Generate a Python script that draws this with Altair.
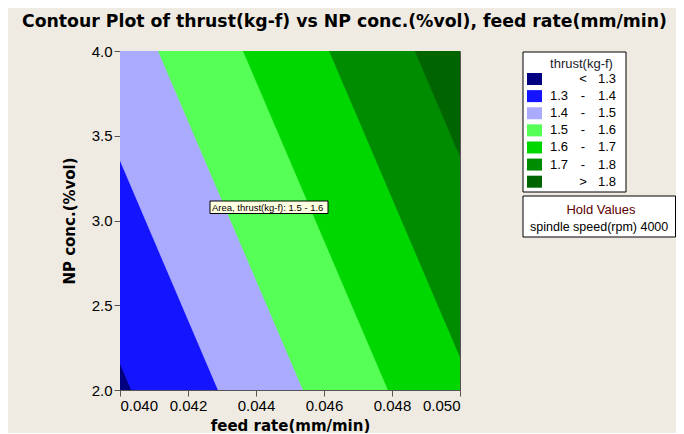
import altair as alt
import pandas as pd

# ---- data ----
# each contour line is given by the NP conc. value where it meets the left
# (feed rate 0.040) and right (feed rate 0.050) edge of the plot (extended)
edge_x = [0.040, 0.050]
c13 = [2.160, -2.535]
c14 = [3.357, -1.338]
c15 = [4.531, -0.164]
c16 = [5.704, 1.009]
c17 = [6.892, 2.197]
c18 = [8.075, 3.380]
low_ext = [-10.0, -10.0]
high_ext = [14.0, 14.0]

bands = ["< 1.3", "1.3 - 1.4", "1.4 - 1.5", "1.5 - 1.6", "1.6 - 1.7", "1.7 - 1.8", "> 1.8"]
colors = ["#000080", "#1414FF", "#AAAAFF", "#55FF55", "#00D700", "#008C00", "#006400"]
lo_labels = ["", "1.3", "1.4", "1.5", "1.6", "1.7", ""]
mid_labels = ["<", "-", "-", "-", "-", "-", ">"]
hi_labels = ["1.3", "1.4", "1.5", "1.6", "1.7", "1.8", "1.8"]

x_ticks = [0.040, 0.042, 0.044, 0.046, 0.048, 0.050]
y_ticks = [2.0, 2.5, 3.0, 3.5, 4.0]

title_text = "Contour Plot of thrust(kg-f) vs NP conc.(%vol), feed rate(mm/min)"
legend_title = "thrust(kg-f)"
hold_title = "Hold Values"
hold_text = "spindle speed(rpm)  4000"
tip_text = "Area, thrust(kg-f): 1.5  -  1.6"

FONT = "Liberation Sans"
BOLD_FONT = "DejaVu Sans"
BG = "#EFEBE2"

# ---- build band table ----
edges = [low_ext, c13, c14, c15, c16, c17, c18, high_ext]
rows = []
for i, band in enumerate(bands):
    for j, xv in enumerate(edge_x):
        rows.append({"band": band, "x": xv, "ylo": edges[i][j], "yhi": edges[i + 1][j]})
band_df = pd.DataFrame(rows)

color_scale = alt.Scale(domain=bands, range=colors)

contour = alt.Chart(band_df).mark_area(clip=True, strokeWidth=0.8).encode(
    x=alt.X("x:Q", scale=alt.Scale(domain=[0.040, 0.050], nice=False, zero=False),
            axis=alt.Axis(values=x_ticks, format=".3f", title="feed rate(mm/min)",
                          titleX=170, titleY=35, titleAlign="center", titleBaseline="middle")),
    y=alt.Y("ylo:Q", scale=alt.Scale(domain=[2.0, 4.0], nice=False, zero=False),
            axis=alt.Axis(values=y_ticks, format=".1f", title="NP conc.(%vol)",
                          titleX=-51, titleY=169.5, titleAngle=-90, titleAlign="center",
                          titleBaseline="middle")),
    y2="yhi:Q",
    color=alt.Color("band:N", scale=color_scale, legend=None),
    stroke=alt.Stroke("band:N", scale=color_scale, legend=None),
)

one = alt.Data(values=[{}])

title_mark = alt.Chart(one).mark_text(
    text=title_text, align="left", baseline="alphabetic", font=BOLD_FONT, fontSize=17.3,
    fontWeight="bold", color="#000000"
).encode(x=alt.value(-98), y=alt.value(-24))

# legend
leg_df = pd.DataFrame({"row": list(range(len(bands))), "band": bands,
                       "lo": lo_labels, "mid": mid_labels, "hi": hi_labels})
leg_y = alt.Y("row:Q", scale=alt.Scale(domain=[0, 6], range=[28, 130.7]), axis=None)

leg_box = alt.Chart(one).mark_rect(fill="white", stroke="#000000", strokeWidth=1).encode(
    x=alt.value(403), x2=alt.value(506), y=alt.value(1), y2=alt.value(141))
leg_title = alt.Chart(one).mark_text(
    text=legend_title, align="center", baseline="middle", font=FONT, fontSize=13, color="#1a1a2a"
).encode(x=alt.value(461.5), y=alt.value(12.5))
leg_sw = alt.Chart(leg_df).mark_point(
    shape="M-1.25,-1L1.25,-1L1.25,1L-1.25,1Z", size=144, filled=True, opacity=1, strokeWidth=0
).encode(x=alt.value(414.5), y=leg_y, fill=alt.Fill("band:N", scale=color_scale, legend=None))
leg_lo = alt.Chart(leg_df).mark_text(align="left", baseline="middle", font=FONT, fontSize=13,
                                     color="#000000").encode(
    x=alt.value(430), y=leg_y, text="lo:N")
leg_mid = alt.Chart(leg_df).mark_text(align="center", baseline="middle", font=FONT, fontSize=13,
                                      color="#000000").encode(
    x=alt.value(463), y=leg_y, text="mid:N")
leg_hi = alt.Chart(leg_df).mark_text(align="left", baseline="middle", font=FONT, fontSize=13,
                                     color="#000000").encode(
    x=alt.value(478), y=leg_y, text="hi:N")

# hold values box
hold_box = alt.Chart(one).mark_rect(fill="white", stroke="#000000", strokeWidth=1).encode(
    x=alt.value(403), x2=alt.value(555.5), y=alt.value(145), y2=alt.value(186))
hold_t1 = alt.Chart(one).mark_text(
    text=hold_title, align="center", baseline="middle", font=FONT, fontSize=13, color="#5C0000"
).encode(x=alt.value(481), y=alt.value(158.5))
hold_t2 = alt.Chart(one).mark_text(
    text=hold_text, align="left", baseline="middle", font=FONT, fontSize=12.5, color="#000000"
).encode(x=alt.value(410), y=alt.value(176))

# tooltip annotation
tip_box = alt.Chart(one).mark_rect(fill="#FFFFE1", stroke="#000000", strokeWidth=1).encode(
    x=alt.value(90), x2=alt.value(208), y=alt.value(150), y2=alt.value(162.5))
tip_t = alt.Chart(one).mark_text(
    text=tip_text, align="left", baseline="middle", font=FONT, fontSize=9.5, color="#000000"
).encode(x=alt.value(92), y=alt.value(156.5))

chart = alt.layer(
    contour, title_mark, leg_box, leg_title, leg_sw, leg_lo, leg_mid, leg_hi,
    hold_box, hold_t1, hold_t2, tip_box, tip_t
).resolve_scale(y="independent").properties(
    width=340, height=339,
    autosize=alt.AutoSizeParams(type="none"),
    padding={"left": 112, "top": 43, "right": 216, "bottom": 43},
    background=BG,
).configure_view(stroke="#555555", strokeWidth=1).configure_axis(
    labelFont=FONT, labelFontSize=15, labelColor="#000000",
    titleFont=BOLD_FONT, titleFontSize=15, titleFontWeight="bold", titleColor="#000000",
    domainColor="#555555", tickColor="#555555", tickSize=6, labelPadding=2, grid=False,
)

chart.save("out.html", embed_options={"renderer": "svg", "actions": False})
